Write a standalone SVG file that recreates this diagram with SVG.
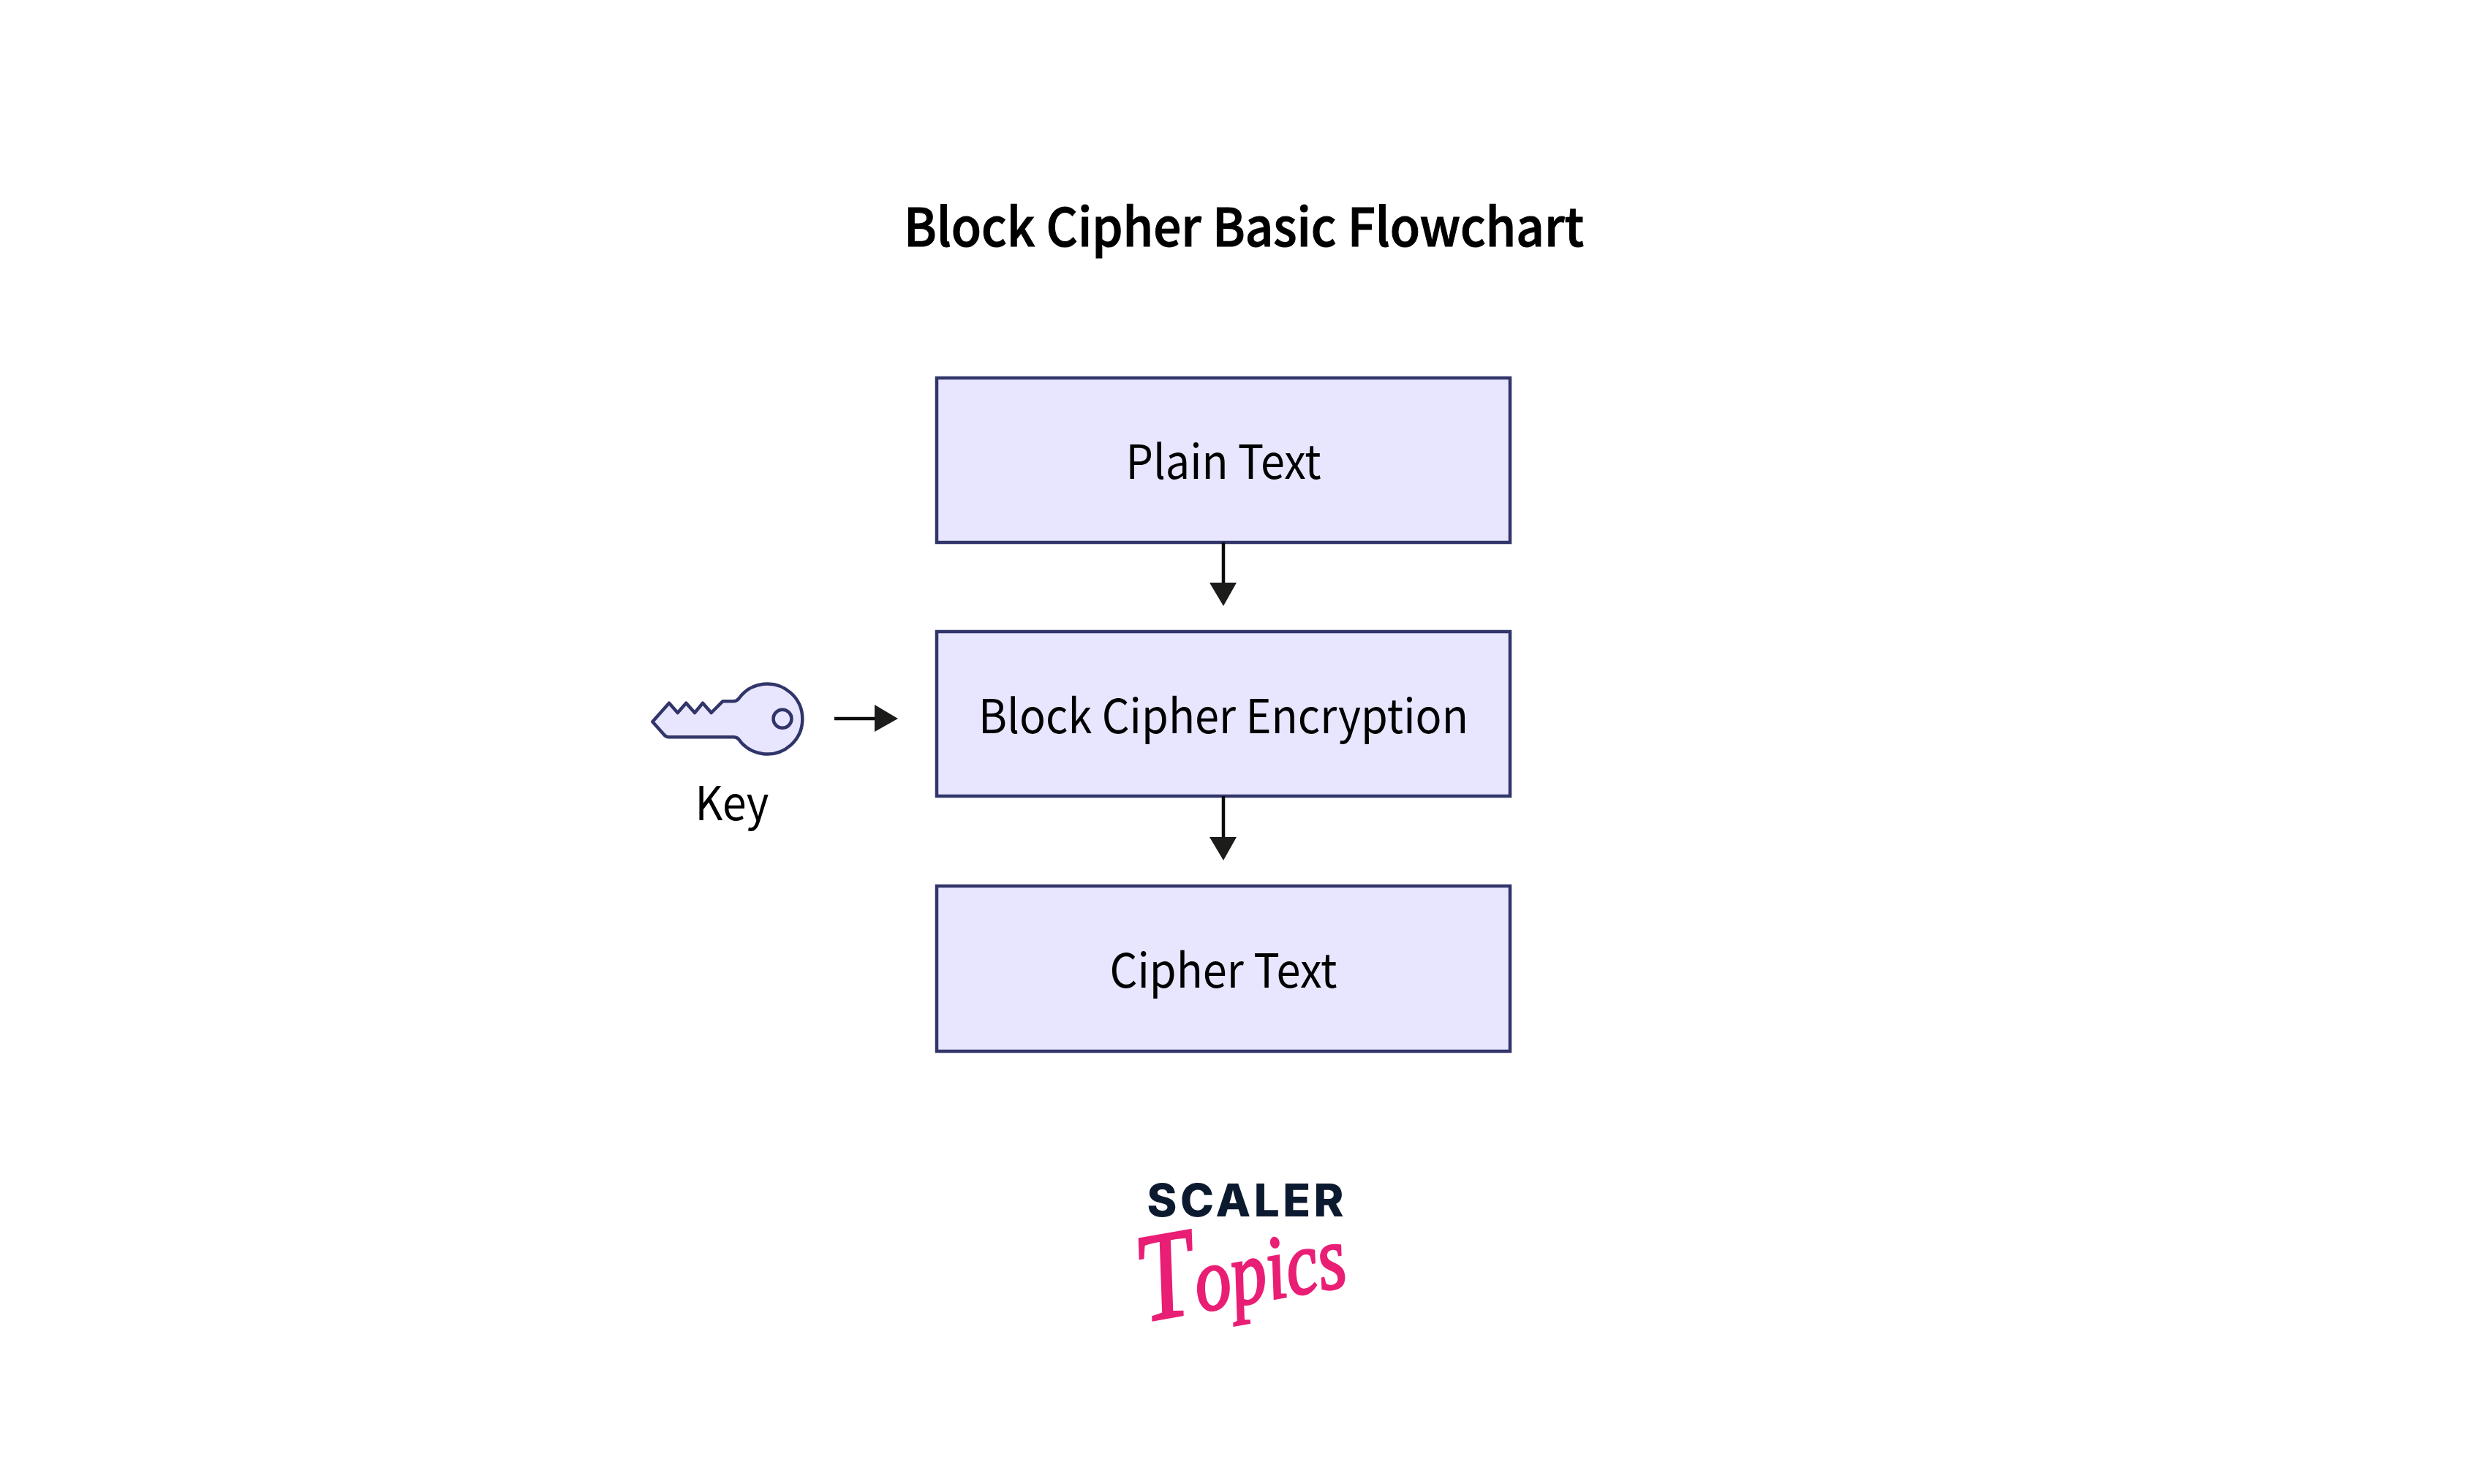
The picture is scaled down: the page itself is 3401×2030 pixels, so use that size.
<svg xmlns="http://www.w3.org/2000/svg" width="3401" height="2030" viewBox="0 0 3401 2030">
<style>
text{font-family:"Noto Sans CJK SC","Noto Sans",sans-serif;fill:#000;text-anchor:middle}
.box{fill:#e7e6fe;stroke:#313569;stroke-width:4.5}
.lbl{font-size:64px}
.edge{stroke:#0a0a0a;stroke-width:4.5;fill:none}
.head{fill:#1c1c1a}
</style>
<rect width="3401" height="2030" fill="#fff"/>
<text id="title" x="1701" y="337" font-size="72" font-weight="500" stroke="#000" stroke-width="1.2" textLength="930" lengthAdjust="spacingAndGlyphs">Block Cipher Basic Flowchart</text>
<g id="plain"><rect class="box" x="1281" y="517" width="784" height="225"/><text class="lbl" x="1673" y="655" textLength="267" lengthAdjust="spacingAndGlyphs">Plain Text</text></g>
<g id="encrypt"><rect class="box" x="1281" y="864" width="784" height="225"/><text class="lbl" x="1673" y="1003" textLength="670" lengthAdjust="spacingAndGlyphs">Block Cipher Encryption</text></g>
<g id="cipher"><rect class="box" x="1281" y="1212" width="784" height="226"/><text class="lbl" x="1673" y="1351" textLength="311" lengthAdjust="spacingAndGlyphs">Cipher Text</text></g>
<g id="key">
<path d="M892.3 987.3L915 961.7L926.7 975L938.3 961.7L950 975L961 961.7L972.7 975L988.3 959.3H1003Q1007 959.3 1010 956A48 48 0 1 1 1010 1011Q1007 1008.3 1003 1008.3H914Q911.7 1008.3 909 1006Z" fill="#e7e6fe" stroke="#313569" stroke-width="4.5" stroke-linejoin="round"/>
<circle cx="1070" cy="983.3" r="12.5" fill="#e7e6fe" stroke="#313569" stroke-width="4.5"/>
<text class="lbl" x="1001" y="1122" textLength="101" lengthAdjust="spacingAndGlyphs">Key</text>
</g>
<g id="connectors">
<path class="edge" d="M1673 742V798"/><path class="head" d="M1654 797H1691L1673 829Z"/>
<path class="edge" d="M1673 1089V1146"/><path class="head" d="M1654 1145H1691L1673 1177Z"/>
<path class="edge" d="M1141 983H1197"/><path class="head" d="M1196 964V1001L1228 983Z"/>
</g>
<g id="logo">
<text x="1703" y="1664" font-size="62" font-weight="800" textLength="269" lengthAdjust="spacing" style="font-family:Inter,sans-serif;fill:#0c1a30">SCALER</text>
<text x="1565" y="1808" textLength="285" lengthAdjust="spacingAndGlyphs" transform="rotate(-10 1565 1808)" style="font-family:'Liberation Serif',serif;font-style:italic;text-anchor:start;fill:#e91e75;stroke:#e91e75;stroke-width:3"><tspan font-size="172">T</tspan><tspan font-size="124">opics</tspan></text>
</g>
</svg>
